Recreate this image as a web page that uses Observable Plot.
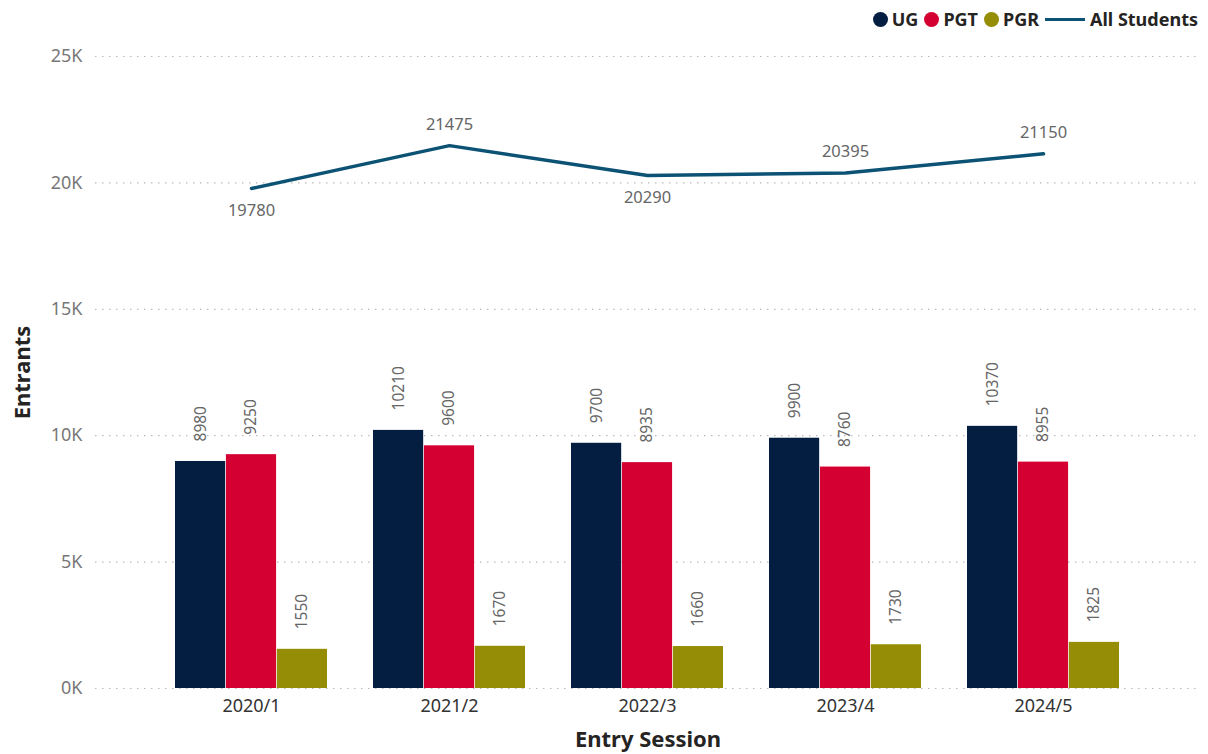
<!DOCTYPE html>
<html>
<head>
<meta charset="utf-8">
<script src="https://cdn.jsdelivr.net/npm/d3@7"></script>
<script src="https://cdn.jsdelivr.net/npm/@observablehq/plot@0.6"></script>
<style>
  body { margin: 0; background: #fff; font-family: "Noto Sans", "Open Sans", sans-serif; }
  #wrap { position: relative; width: 1208px; height: 754px; }
  #legend { position: absolute; top: 7px; right: 10px; display: flex; align-items: center; font-weight: 700; font-size: 18px; color: #252423; }
  #legend .item { display: flex; align-items: center; margin-left: 6px; }
  #legend .dot { width: 15px; height: 15px; border-radius: 50%; margin-right: 4px; }
  #legend .ln { width: 40px; height: 3px; margin-right: 5px; }
</style>
</head>
<body>
<div id="wrap">
  <div id="legend"></div>
  <div id="chart"></div>
</div>
<script>
const sessions = ["2020/1", "2021/2", "2022/3", "2023/4", "2024/5"];
const ug = [8980, 10210, 9700, 9900, 10370];
const pgt = [9250, 9600, 8935, 8760, 8955];
const pgr = [1550, 1670, 1660, 1730, 1825];
const allStudents = [19780, 21475, 20290, 20395, 21150];
const seriesNames = ["UG", "PGT", "PGR"];
const yTicks = [0, 5000, 10000, 15000, 20000, 25000];

const colors = { UG: "#041E42", PGT: "#D50032", PGR: "#948D05", All: "#0B5274" };

const seriesData = [ug, pgt, pgr].map((vals, k) =>
  sessions.map((s, i) => ({ session: s, series: seriesNames[k], value: vals[i] })));
const lineData = sessions.map((s, i) => {
  const v = allStudents[i];
  const prev = i > 0 ? allStudents[i - 1] : Infinity;
  const next = i < allStudents.length - 1 ? allStudents[i + 1] : Infinity;
  return { session: s, value: v, below: v < prev && v < next };
});

// legend
const legend = document.getElementById("legend");
seriesNames.forEach(n => {
  const it = document.createElement("div");
  it.className = "item";
  it.innerHTML = `<span class="dot" style="background:${colors[n]}"></span>${n}`;
  legend.appendChild(it);
});
{
  const it = document.createElement("div");
  it.className = "item";
  it.innerHTML = `<span class="ln" style="background:${colors.All}"></span>All Students`;
  legend.appendChild(it);
}

const width = 1208, height = 754;
const marginLeft = 95, marginRight = 8;
const paddingInner = 0.23, paddingOuter = 0.4;
const step = (width - marginLeft - marginRight) / (sessions.length - paddingInner + 2 * paddingOuter);
const bw = step * (1 - paddingInner);
const third = bw / 3;

const barMarks = seriesData.flatMap((d, k) => [
  Plot.barY(d, {
    x: "session", y: "value", fill: colors[seriesNames[k]],
    insetLeft: k * third, insetRight: (2 - k) * third
  }),
  Plot.text(d, {
    x: "session", y: "value", text: d => String(d.value),
    rotate: -90, textAnchor: "start", lineAnchor: "middle",
    dx: (k - 1) * third, dy: -20,
    fill: "#666", fontSize: 15.5
  })
]);

const chart = Plot.plot({
  width, height,
  marginTop: 56, marginBottom: 66, marginLeft, marginRight,
  style: { fontFamily: "'Noto Sans', 'Open Sans', sans-serif", background: "#fff" },
  x: { domain: sessions, paddingInner, paddingOuter, label: null, tickSize: 0 },
  y: { domain: [0, 25000], ticks: yTicks, label: null, tickSize: 0 },
  marks: [
    Plot.gridY(yTicks, { stroke: "#bbb", strokeOpacity: 1, strokeDasharray: "1.5,5.5", strokeWidth: 1.2 }),
    ...barMarks,
    Plot.lineY(lineData, { x: "session", y: "value", stroke: colors.All, strokeWidth: 3.5 }),
    Plot.text(lineData.filter(d => d.below), { x: "session", y: "value", text: d => String(d.value), dy: 22, fill: "#666", fontSize: 16.5 }),
    Plot.text(lineData.filter(d => !d.below), { x: "session", y: "value", text: d => String(d.value), dy: -21, fill: "#666", fontSize: 16.5 }),
    Plot.axisX({ tickSize: 0, tickPadding: 11, fontSize: 18, color: "#333", label: null }),
    Plot.axisY(yTicks, { tickSize: 0, tickPadding: 13, fontSize: 18, color: "#777", tickFormat: d => d / 1000 + "K", label: null }),
    Plot.text(["Entry Session"], { frameAnchor: "bottom", dy: 58, fontSize: 22, fontWeight: 700, fill: "#252423" }),
    Plot.text(["Entrants"], { frameAnchor: "left", textAnchor: "middle", dx: -73, rotate: -90, fontSize: 22, fontWeight: 700, fill: "#252423" })
  ]
});
document.getElementById("chart").appendChild(chart);
</script>
</body>
</html>
